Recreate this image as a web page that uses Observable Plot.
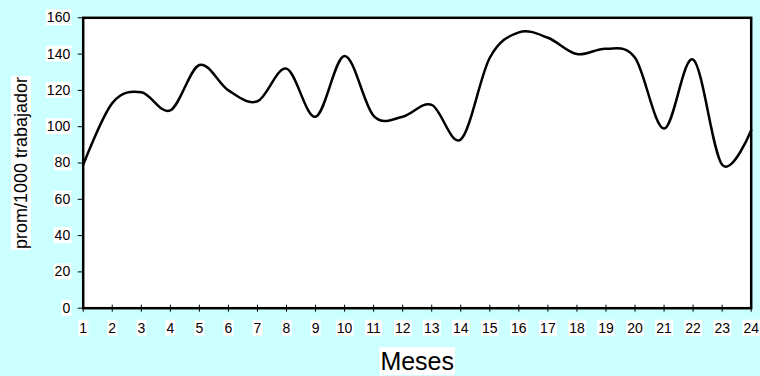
<!DOCTYPE html>
<html><head><meta charset="utf-8">
<script src="https://cdn.jsdelivr.net/npm/d3@7"></script>
<script src="https://cdn.jsdelivr.net/npm/@observablehq/plot@0.6"></script>
<style>
html,body{margin:0;padding:0;background:#ccffff;overflow:hidden;}
</style></head><body><div id="chart"></div>
<script>
const months = [1,2,3,4,5,6,7,8,9,10,11,12,13,14,15,16,17,18,19,20,21,22,23,24];
const values = [79,113,119,109,134,120,114,132,105.5,139,106,105.5,112,93,138,152,149,140,143,138,99,137,79,98];
const yTicks = [0,20,40,60,80,100,120,140,160];
const xLabel = "Meses";
const yLabel = "prom/1000 trabajador";
const data = months.map((m, i) => ({mes: m, valor: values[i]}));

const chart = Plot.plot({
  width: 760, height: 376,
  marginLeft: 82.7, marginRight: 9.3, marginTop: 17.3, marginBottom: 68.3,
  style: {background: "#ccffff", fontFamily: "'Liberation Sans', Arial, sans-serif", fontSize: "14px", color: "black"},
  x: {domain: [1, 24]},
  y: {domain: [0, 160]},
  marks: [
    Plot.frame({fill: "white"}),
    Plot.axisY({ticks: yTicks, tickSize: 5, tickPadding: 8, label: yLabel, labelArrow: "none", labelAnchor: "center", labelOffset: 69, fontSize: 14}),
    Plot.axisX({ticks: months, tickSize: 7, dy: -3, text: null, label: null}),
    Plot.axisX({ticks: months, tickSize: 0, tickPadding: 14.6, label: xLabel, labelArrow: "none", labelAnchor: "center", labelOffset: 62, fontSize: 14}),
    Plot.line(data, {x: "mes", y: "valor", curve: "cardinal", tension: 0, stroke: "black", strokeWidth: 2.5}),
    Plot.frame({stroke: "black", strokeWidth: 2.5})
  ]
});
document.getElementById("chart").appendChild(chart);

const svg = d3.select(chart);
svg.selectAll('g[aria-label$="axis label"] text, g[aria-label$="axis label"] tspan').each(function () {
  if (this.firstChild && this.firstChild.nodeType === 3) {
    this.firstChild.nodeValue = this.firstChild.nodeValue.replace(/\s*[\u2190-\u2193]\s*/g, "");
  }
});
svg.selectAll('g[aria-label="y-axis label"]').attr("font-size", 18).selectAll("text").attr("font-size", 18);
svg.selectAll('g[aria-label="x-axis label"]').attr("font-size", 25).selectAll("text").attr("font-size", 25);

// white boxes behind text labels
svg.selectAll('g[aria-label$="tick label"] text, g[aria-label$="axis label"] text').each(function () {
  const b = this.getBBox();
  const pad = 1;
  const r = document.createElementNS("http://www.w3.org/2000/svg", "rect");
  r.setAttribute("x", b.x - pad);
  r.setAttribute("y", b.y);
  r.setAttribute("width", b.width + 2 * pad);
  r.setAttribute("height", b.height);
  r.setAttribute("fill", "white");
  r.setAttribute("stroke", "none");
  const t = this.getAttribute("transform");
  if (t) r.setAttribute("transform", t);
  this.parentNode.insertBefore(r, this);
});
</script></body></html>
